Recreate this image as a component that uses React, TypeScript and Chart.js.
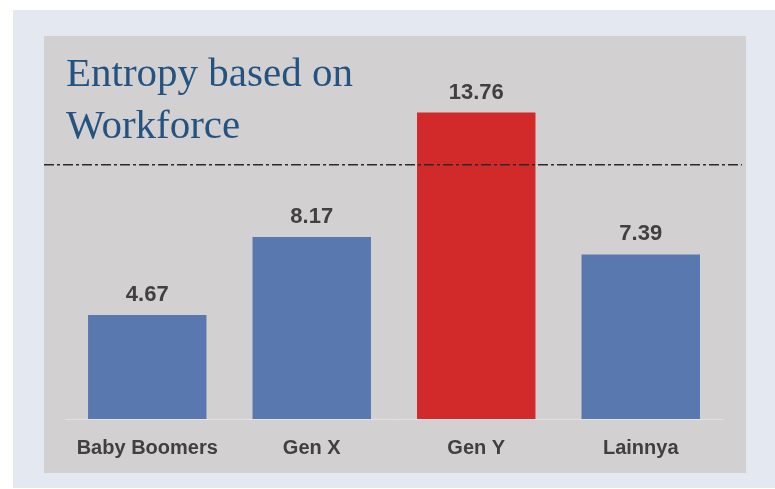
import React, { useEffect, useRef } from "react";
import { Chart, registerables } from "chart.js";

Chart.register(...registerables);

const categories = ["Baby Boomers", "Gen X", "Gen Y", "Lainnya"];
const values = [4.67, 8.17, 13.76, 7.39];
const barColors = ["#5a78b0", "#5a78b0", "#d22a2a", "#5a78b0"];
const valueLabels = ["4.67", "8.17", "13.76", "7.39"];
const referenceValue = 11.42;
const titleLines = ["Entropy based on", "Workforce"];

export default function App() {
  const ref = useRef<HTMLCanvasElement | null>(null);

  useEffect(() => {
    if (!ref.current) return;
    const decor = {
      id: "decor",
      beforeDraw(chart: any) {
        const ctx = chart.ctx;
        ctx.save();
        ctx.fillStyle = "#ffffff";
        ctx.fillRect(0, 0, chart.width, chart.height);
        ctx.fillStyle = "#e4e9f1";
        ctx.fillRect(13, 10, chart.width - 13, 478);
        ctx.fillStyle = "#d3d0d1";
        ctx.fillRect(44, 36, 702, 437);
        ctx.fillStyle = "#245381";
        ctx.font = "41px 'Liberation Serif'";
        ctx.textBaseline = "alphabetic";
        ctx.textAlign = "left";
        ctx.fillText(titleLines[0], 66, 86);
        ctx.fillText(titleLines[1], 66, 138);
        ctx.restore();
      },
      afterDatasetsDraw(chart: any) {
        const ctx = chart.ctx;
        const meta = chart.getDatasetMeta(0);
        ctx.save();
        ctx.fillStyle = "#404040";
        ctx.font = "bold 22px 'Liberation Sans'";
        ctx.textAlign = "center";
        ctx.textBaseline = "alphabetic";
        meta.data.forEach((bar: any, i: number) => {
          ctx.fillText(valueLabels[i], bar.x, bar.y - 14);
        });
        const y = chart.scales.y.getPixelForValue(referenceValue);
        ctx.strokeStyle = "#2a2a2a";
        ctx.lineWidth = 1.5;
        ctx.setLineDash([10, 3, 3, 3]);
        ctx.beginPath();
        ctx.moveTo(44, y);
        ctx.lineTo(742, y);
        ctx.stroke();
        ctx.restore();
      },
    };

    const chart = new Chart(ref.current, {
      type: "bar",
      data: {
        labels: categories,
        datasets: [
          {
            data: values,
            backgroundColor: barColors,
            borderWidth: 0,
            barPercentage: 0.72,
            categoryPercentage: 1,
          },
        ],
      },
      options: {
        animation: false,
        responsive: false,
        maintainAspectRatio: false,
        layout: { padding: { left: 65, right: 52, top: 85, bottom: 0 } },
        plugins: { legend: { display: false }, tooltip: { enabled: false }, title: { display: false } },
        scales: {
          x: {
            grid: { display: false, drawTicks: false },
            border: { display: true, color: "rgba(232,232,232,0.7)", width: 1 },
            ticks: {
              color: "#404040",
              font: { family: "'Liberation Sans'", size: 20, weight: "bold" },
              padding: 17,
              maxRotation: 0,
            },
            afterFit(scale: any) {
              scale.height = 70;
            },
          },
          y: {
            display: false,
            min: 0,
            max: 15,
          },
        },
      },
      plugins: [decor],
    } as any);
    return () => chart.destroy();
  }, []);

  return (
    <div style={{ position: "fixed", left: 0, top: 0, width: 775, height: 489 }}>
      <canvas ref={ref} width={775} height={489} style={{ width: 775, height: 489, display: "block" }} />
    </div>
  );
}
